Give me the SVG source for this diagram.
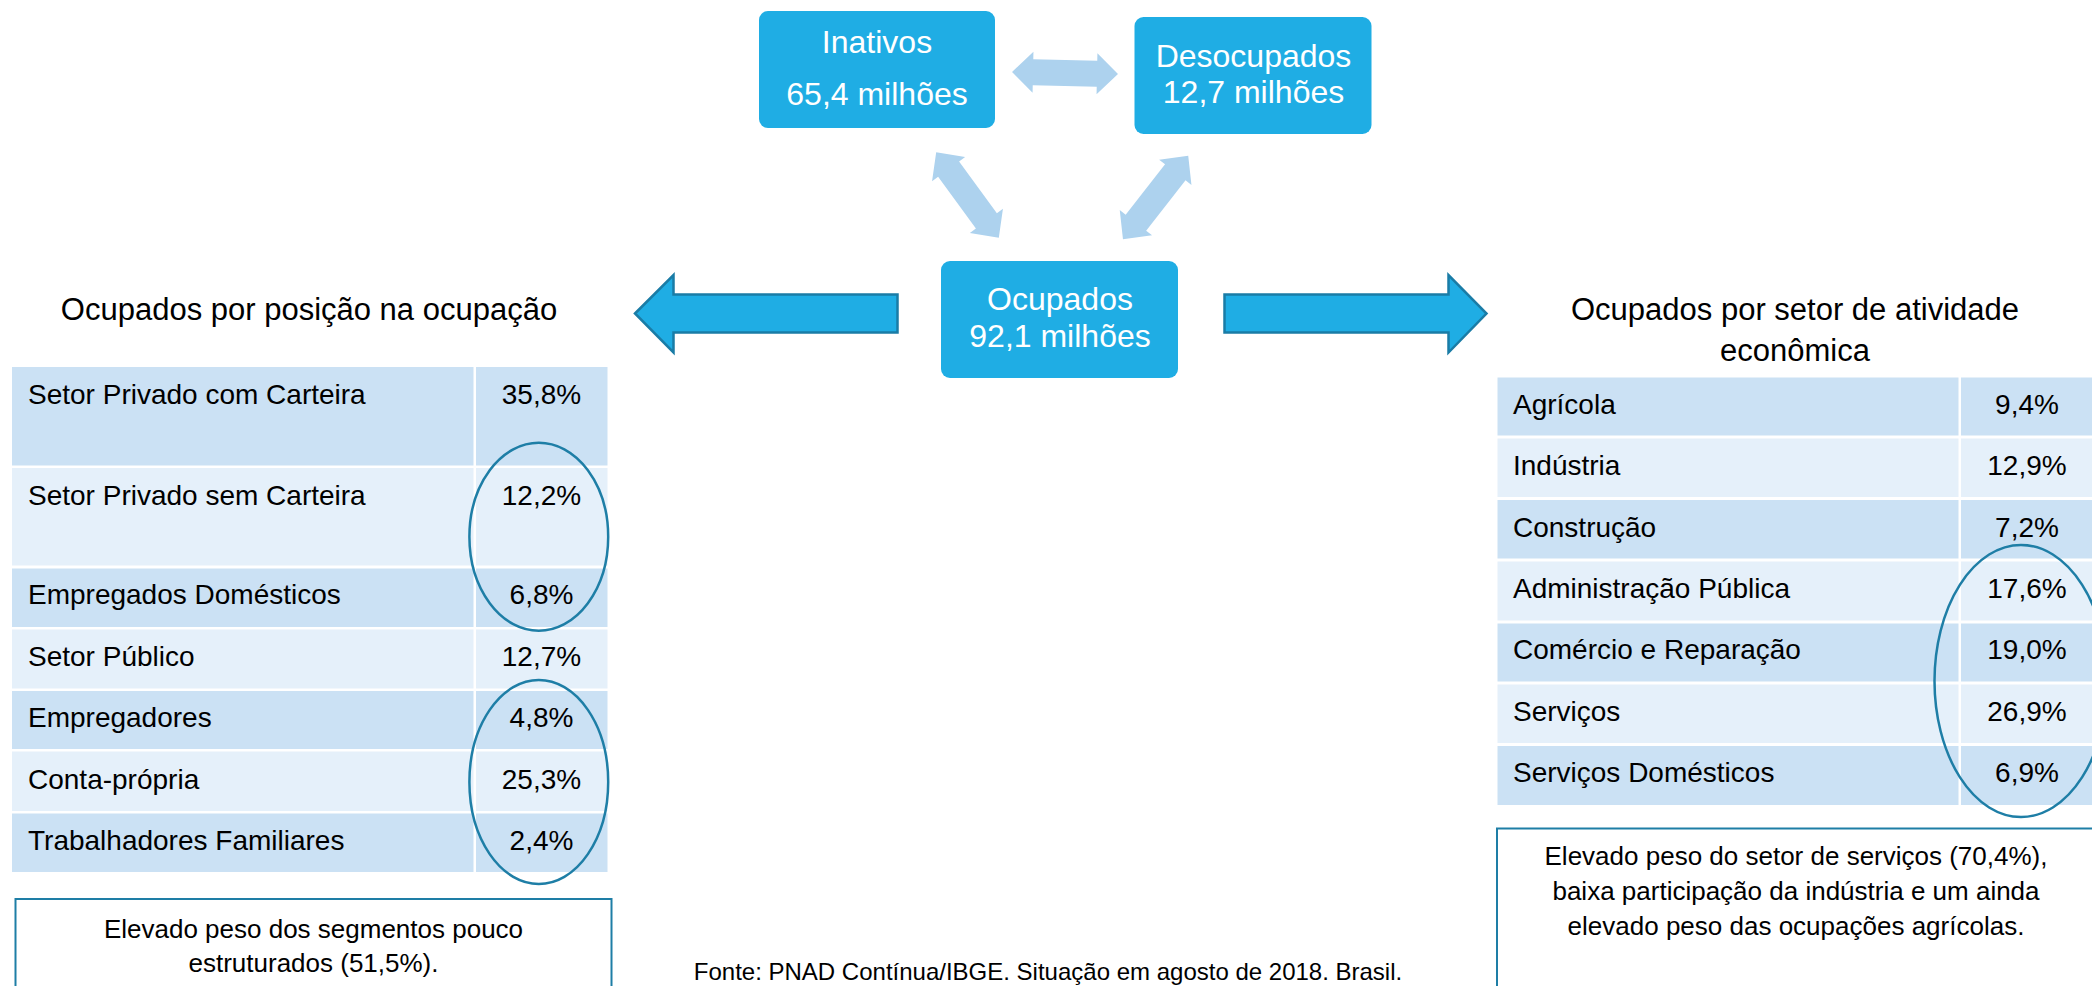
<svg xmlns="http://www.w3.org/2000/svg" width="2092" height="986" viewBox="0 0 2092 986">
<style>
.node{fill:#1FADE4}
.nt{font-family:"Liberation Sans",Arial,sans-serif;font-size:32px;fill:#fff;text-anchor:middle}
.h{font-family:"Liberation Sans",Arial,sans-serif;font-size:31px;fill:#000;text-anchor:middle}
.cell{font-family:"Liberation Sans",Arial,sans-serif;font-size:28px;fill:#000}
.pc{font-family:"Liberation Sans",Arial,sans-serif;font-size:28px;fill:#000;text-anchor:middle}
.dk{fill:#CBE1F4}
.lt{fill:#E5F0FA}
.ring{fill:none;stroke:#1E7EA6;stroke-width:2.5}
.note{fill:#fff;stroke:#1E7EA6;stroke-width:2}
.nx{font-family:"Liberation Sans",Arial,sans-serif;font-size:26px;fill:#000;text-anchor:middle}
.src{font-family:"Liberation Sans",Arial,sans-serif;font-size:24px;fill:#000;text-anchor:middle}
.dbl{fill:#ADD2EE}
.big{fill:#1FADE4;stroke:#1A7CA6;stroke-width:2.5}
</style>
<defs>
<path id="dblArrow" d="M-53,0 L-32,-20.5 L-32,-13 L32,-13 L32,-20.5 L53,0 L32,20.5 L32,13 L-32,13 L-32,20.5 Z"/>
</defs>
<rect width="2092" height="986" fill="#fff"/>

<g id="connectors">
<use href="#dblArrow" class="dbl" transform="translate(1065,73) rotate(1.2)"/>
<use href="#dblArrow" class="dbl" transform="translate(967.5,195) rotate(53.8)"/>
<use href="#dblArrow" class="dbl" transform="translate(1155.6,197.5) rotate(-52)"/>
<path class="big" d="M635,313.5 L673.5,275 L673.5,294.5 L897.5,294.5 L897.5,332.5 L673.5,332.5 L673.5,352.5 Z"/>
<path class="big" d="M1224.5,294.5 L1448.5,294.5 L1448.5,275 L1486.5,313.5 L1448.5,352.5 L1448.5,332.5 L1224.5,332.5 Z"/>
</g>

<g id="inativos">
<rect class="node" x="759" y="11" width="236" height="117" rx="9"/>
<text class="nt" x="877" y="53">Inativos</text>
<text class="nt" x="877" y="105">65,4 milhões</text>
</g>
<g id="desocupados">
<rect class="node" x="1134.5" y="17" width="237" height="117" rx="9"/>
<text class="nt" x="1253.5" y="67">Desocupados</text>
<text class="nt" x="1253.5" y="103">12,7 milhões</text>
</g>
<g id="ocupados">
<rect class="node" x="941" y="261" width="237" height="117" rx="9"/>
<text class="nt" x="1060" y="310">Ocupados</text>
<text class="nt" x="1060" y="347">92,1 milhões</text>
</g>

<g id="posicao">
<text class="h" x="309" y="320">Ocupados por posição na ocupação</text>
<rect class="dk" x="12" y="367" width="461.5" height="98.5"/><rect class="dk" x="476" y="367" width="131.5" height="98.5"/>
<rect class="lt" x="12" y="468" width="461.5" height="97.5"/><rect class="lt" x="476" y="468" width="131.5" height="97.5"/>
<rect class="dk" x="12" y="568.5" width="461.5" height="58.5"/><rect class="dk" x="476" y="568.5" width="131.5" height="58.5"/>
<rect class="lt" x="12" y="629.5" width="461.5" height="59"/><rect class="lt" x="476" y="629.5" width="131.5" height="59"/>
<rect class="dk" x="12" y="691" width="461.5" height="58"/><rect class="dk" x="476" y="691" width="131.5" height="58"/>
<rect class="lt" x="12" y="751.5" width="461.5" height="59.5"/><rect class="lt" x="476" y="751.5" width="131.5" height="59.5"/>
<rect class="dk" x="12" y="813.5" width="461.5" height="58.5"/><rect class="dk" x="476" y="813.5" width="131.5" height="58.5"/>
<text class="cell" x="28" y="404">Setor Privado com Carteira</text><text class="pc" x="541.5" y="404">35,8%</text>
<text class="cell" x="28" y="505">Setor Privado sem Carteira</text><text class="pc" x="541.5" y="505">12,2%</text>
<text class="cell" x="28" y="603.5">Empregados Domésticos</text><text class="pc" x="541.5" y="603.5">6,8%</text>
<text class="cell" x="28" y="665.5">Setor Público</text><text class="pc" x="541.5" y="665.5">12,7%</text>
<text class="cell" x="28" y="726.5">Empregadores</text><text class="pc" x="541.5" y="726.5">4,8%</text>
<text class="cell" x="28" y="788.5">Conta-própria</text><text class="pc" x="541.5" y="788.5">25,3%</text>
<text class="cell" x="28" y="849.5">Trabalhadores Familiares</text><text class="pc" x="541.5" y="849.5">2,4%</text>
<ellipse class="ring" cx="538.8" cy="536.7" rx="69.4" ry="94"/>
<ellipse class="ring" cx="538.8" cy="782" rx="69.4" ry="102"/>
</g>

<g id="nota-posicao">
<rect class="note" x="15.5" y="899" width="596" height="120"/>
<text class="nx" x="313.5" y="937.5">Elevado peso dos segmentos pouco</text>
<text class="nx" x="313.5" y="971.5">estruturados (51,5%).</text>
</g>

<g id="setor">
<text class="h" x="1795" y="320">Ocupados por setor de atividade</text>
<text class="h" x="1795" y="361">econômica</text>
<rect class="dk" x="1497.5" y="377.5" width="461" height="58"/><rect class="dk" x="1961" y="377.5" width="131" height="58"/>
<rect class="lt" x="1497.5" y="438.5" width="461" height="58.5"/><rect class="lt" x="1961" y="438.5" width="131" height="58.5"/>
<rect class="dk" x="1497.5" y="500" width="461" height="58.5"/><rect class="dk" x="1961" y="500" width="131" height="58.5"/>
<rect class="lt" x="1497.5" y="561.5" width="461" height="59"/><rect class="lt" x="1961" y="561.5" width="131" height="59"/>
<rect class="dk" x="1497.5" y="623.5" width="461" height="58"/><rect class="dk" x="1961" y="623.5" width="131" height="58"/>
<rect class="lt" x="1497.5" y="684.5" width="461" height="58.5"/><rect class="lt" x="1961" y="684.5" width="131" height="58.5"/>
<rect class="dk" x="1497.5" y="746" width="461" height="59"/><rect class="dk" x="1961" y="746" width="131" height="59"/>
<text class="cell" x="1513" y="413.5">Agrícola</text><text class="pc" x="2027" y="413.5">9,4%</text>
<text class="cell" x="1513" y="474.5">Indústria</text><text class="pc" x="2027" y="474.5">12,9%</text>
<text class="cell" x="1513" y="536.5">Construção</text><text class="pc" x="2027" y="536.5">7,2%</text>
<text class="cell" x="1513" y="597.5">Administração Pública</text><text class="pc" x="2027" y="597.5">17,6%</text>
<text class="cell" x="1513" y="659">Comércio e Reparação</text><text class="pc" x="2027" y="659">19,0%</text>
<text class="cell" x="1513" y="720.5">Serviços</text><text class="pc" x="2027" y="720.5">26,9%</text>
<text class="cell" x="1513" y="782">Serviços Domésticos</text><text class="pc" x="2027" y="782">6,9%</text>
<ellipse class="ring" cx="2021" cy="681" rx="86.5" ry="136"/>
</g>

<g id="nota-setor">
<rect class="note" x="1497" y="828.5" width="620" height="200"/>
<text class="nx" x="1796" y="865">Elevado peso do setor de serviços (70,4%),</text>
<text class="nx" x="1796" y="900">baixa participação da indústria e um ainda</text>
<text class="nx" x="1796" y="934.5">elevado peso das ocupações agrícolas.</text>
</g>

<g id="fonte">
<text class="src" x="1048" y="979.5">Fonte: PNAD Contínua/IBGE. Situação em agosto de 2018. Brasil.</text>
</g>
</svg>
